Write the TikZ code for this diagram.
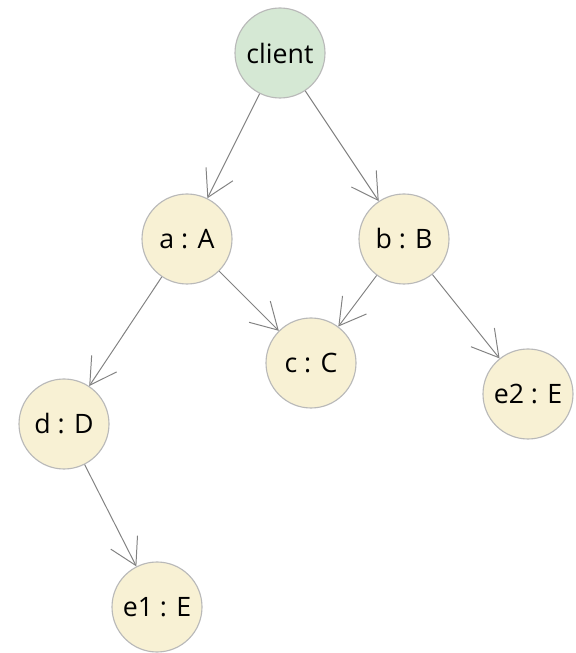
\documentclass[tikz,border=0pt]{standalone}
\usepackage{fontspec}
\setmainfont{Open Sans}
\usetikzlibrary{arrows.meta}

\definecolor{objfill}{RGB}{248,241,212}
\definecolor{clientfill}{RGB}{213,232,212}
\definecolor{objline}{RGB}{185,185,185}
\definecolor{refline}{RGB}{130,130,130}

\begin{document}
\begin{tikzpicture}[line join=round,
    obj/.style={circle,draw=objline,line width=0.8pt,fill=objfill,
      minimum size=2.25cm,inner sep=0pt,font=\fontsize{19}{22}\selectfont},
    clientobj/.style={obj,fill=clientfill},
    ref/.style={draw=refline,line width=0.7pt,
      -{Straight Barb[length=6.5mm,width=7.5mm,line width=0.7pt]}}]
  % keep the page the size of the reference
  \useasboundingbox (0,0) rectangle (14.4,16.325);

  % the client on top, the objects it reaches below
  \node[clientobj] (client) at (7.0,15.0) {client};

  \node[obj] (a)  at (4.675,10.35) {a : A};
  \node[obj] (b)  at (10.1,10.35)  {b : B};
  \node[obj] (c)  at (7.775,7.25)  {c : C};
  \node[obj] (d)  at (1.6,5.725)   {d : D};
  \node[obj] (e2) at (13.2,6.475)  {e2 : E};
  \node[obj] (e1) at (3.925,1.15)  {e1 : E};

  % references from object to object
  \draw[ref] (client) -- (a);
  \draw[ref] (client) -- (b);
  \draw[ref] (a) -- (c);
  \draw[ref] (a) -- (d);
  \draw[ref] (b) -- (c);
  \draw[ref] (b) -- (e2);
  \draw[ref] (d) -- (e1);
\end{tikzpicture}
\end{document}
